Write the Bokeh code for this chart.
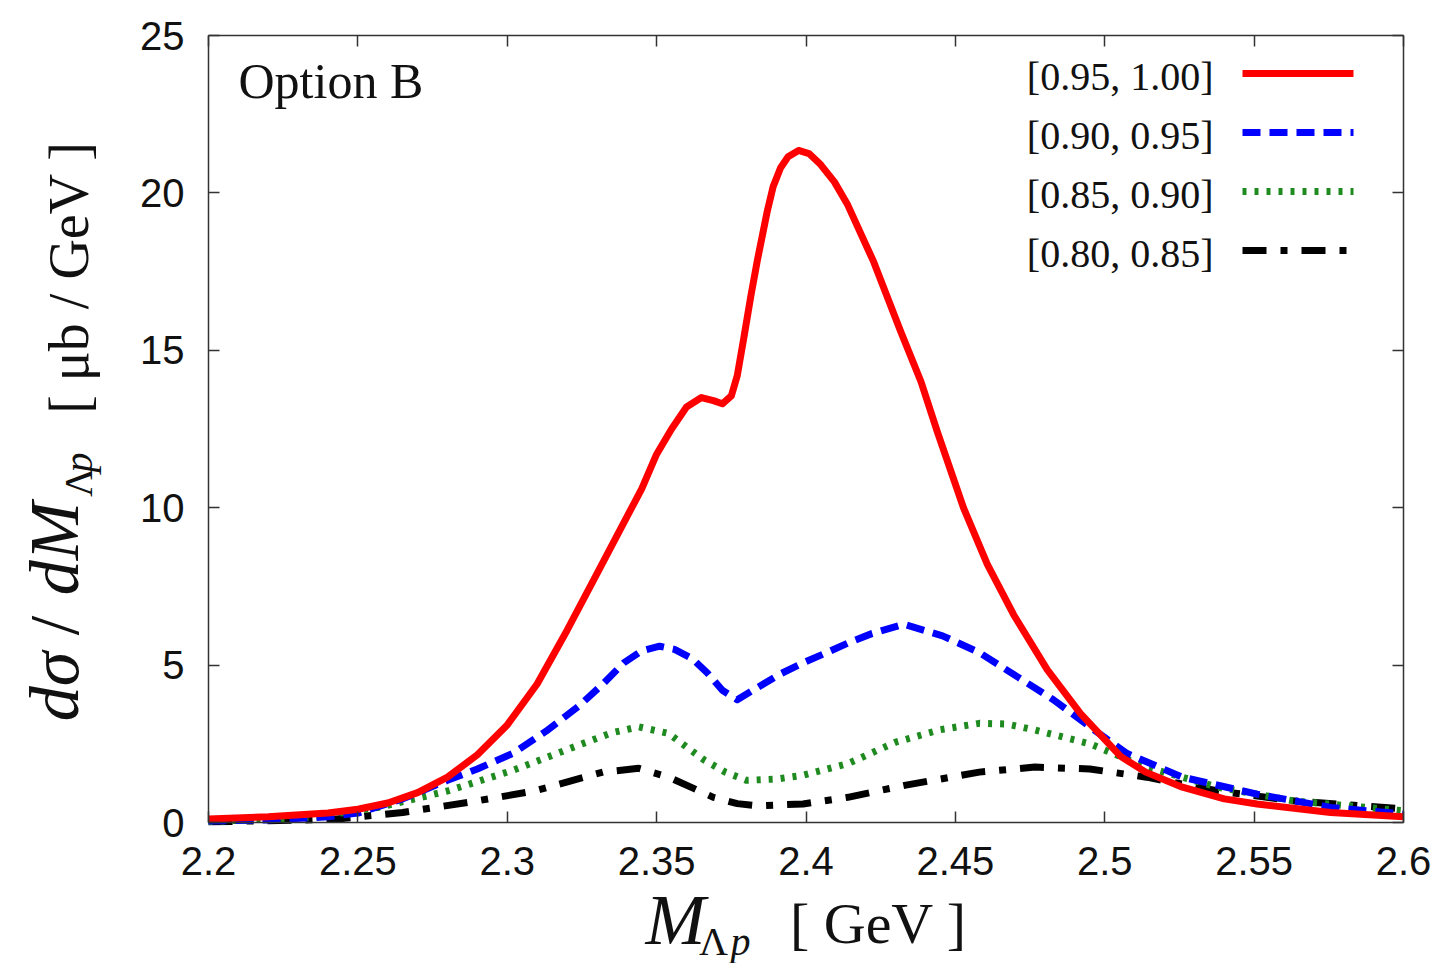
import math
from bokeh.plotting import figure
from bokeh.models import Range1d, FixedTicker, LinearAxis, Label, ColumnDataSource
from bokeh.embed import file_html
from bokeh.resources import INLINE

# ---------------- data ----------------
x_tick_values = [2.2, 2.25, 2.3, 2.35, 2.4, 2.45, 2.5, 2.55, 2.6]
x_tick_labels = ["2.2", "2.25", "2.3", "2.35", "2.4", "2.45", "2.5", "2.55", "2.6"]
y_tick_values = [0, 5, 10, 15, 20, 25]
y_tick_labels = ["0", "5", "10", "15", "20", "25"]

series_labels = ["[0.95, 1.00]", "[0.90, 0.95]", "[0.85, 0.90]", "[0.80, 0.85]"]

x_red = [2.20, 2.22, 2.24, 2.25, 2.26, 2.27, 2.28, 2.29, 2.30, 2.31, 2.32, 2.33,
         2.34, 2.345, 2.35, 2.355, 2.36, 2.365, 2.369, 2.372, 2.375, 2.377,
         2.3792, 2.3815, 2.3837, 2.387, 2.389, 2.3915, 2.394, 2.3975, 2.401,
         2.4049, 2.4095, 2.4138, 2.4227, 2.4317, 2.4385, 2.444, 2.4527, 2.4607,
         2.4695, 2.4808, 2.4919, 2.5053, 2.5137, 2.526, 2.54, 2.551, 2.5756, 2.6]
y_red = [0.11, 0.18, 0.30, 0.42, 0.62, 0.95, 1.44, 2.15, 3.1, 4.4, 6.1, 7.9,
         9.7, 10.6, 11.7, 12.5, 13.2, 13.5, 13.4, 13.3, 13.55, 14.2,
         15.4, 16.7, 17.85, 19.4, 20.2, 20.8, 21.15, 21.35, 21.25,
         20.9, 20.35, 19.65, 17.8, 15.6, 14.0, 12.4, 10.0, 8.2,
         6.6, 4.85, 3.46, 2.1, 1.6, 1.12, 0.75, 0.59, 0.32, 0.18]

x_blue = [2.20, 2.22, 2.24, 2.25, 2.265, 2.28, 2.29, 2.302, 2.313, 2.324, 2.332,
          2.339, 2.345, 2.351, 2.356, 2.362, 2.367, 2.372, 2.377, 2.384, 2.391,
          2.399, 2.407, 2.414, 2.422, 2.4327, 2.4457, 2.458, 2.4704, 2.4828,
          2.495, 2.5075, 2.526, 2.551, 2.5756, 2.6]
y_blue = [0.05, 0.08, 0.18, 0.30, 0.75, 1.34, 1.7, 2.2, 2.9, 3.7, 4.4,
          5.07, 5.45, 5.6, 5.5, 5.2, 4.75, 4.2, 3.9, 4.3, 4.7,
          5.07, 5.4, 5.7, 6.0, 6.3, 5.93, 5.4, 4.65, 3.9,
          3.04, 2.19, 1.44, 0.9, 0.48, 0.27]

x_green = [2.20, 2.234, 2.257, 2.28, 2.302, 2.324, 2.335, 2.344, 2.354, 2.36,
           2.366, 2.373, 2.38, 2.39, 2.399, 2.414, 2.43, 2.445, 2.458, 2.467,
           2.4766, 2.495, 2.5137, 2.538, 2.563, 2.6]
y_green = [0.03, 0.16, 0.48, 1.0, 1.66, 2.46, 2.85, 3.04, 2.83, 2.4,
           1.98, 1.6, 1.34, 1.38, 1.5, 1.87, 2.55, 2.95, 3.15, 3.13,
           2.94, 2.5, 1.76, 1.12, 0.69, 0.37]

x_black = [2.20, 2.242, 2.265, 2.287, 2.309, 2.332, 2.344, 2.354, 2.362, 2.369,
           2.377, 2.384, 2.399, 2.414, 2.433, 2.458, 2.4766, 2.495, 2.514,
           2.538, 2.563, 2.6]
y_black = [0.02, 0.1, 0.32, 0.64, 1.0, 1.6, 1.72, 1.44, 1.1, 0.8,
           0.6, 0.53, 0.59, 0.8, 1.18, 1.6, 1.76, 1.7, 1.44,
           1.0, 0.69, 0.43]

# ---------------- layout ----------------
W, H = 1440, 963
FL, FR, FT, FB = 208, 1403, 35, 822   # plot box edges in page pixels
XMIN, XMAX, YMIN, YMAX = 2.2, 2.6, 0.0, 25.0


def sx(px):
    return XMIN + (px - FL) / (FR - FL) * (XMAX - XMIN)


def sy(py):
    return YMIN + (FB - py) / (FB - FT) * (YMAX - YMIN)


SERIF = "Liberation Serif"
SANS = "Liberation Sans"
AX_COL = "#333333"
TXT = "#111111"

# the frame spans the whole page; the box axes sit at fixed data locations
p = figure(width=W, height=H,
           x_range=Range1d(sx(0), sx(W)), y_range=Range1d(sy(H), sy(0)),
           output_backend="svg", toolbar_location=None,
           x_axis_location=None, y_axis_location=None, min_border=0)
p.background_fill_color = "white"
p.border_fill_color = "white"
p.grid.visible = False
p.outline_line_color = None


def make_axis(loc, ticks, labels, show_labels, bounds, side):
    ax = LinearAxis(fixed_location=loc, bounds=bounds)
    ax.ticker = FixedTicker(ticks=ticks)
    ax.major_tick_in = 11
    ax.major_tick_out = 0
    ax.minor_tick_line_color = None
    ax.axis_line_color = AX_COL
    ax.axis_line_width = 1.5
    ax.major_tick_line_color = AX_COL
    ax.major_tick_line_width = 1.5
    if show_labels:
        ax.major_label_overrides = {t: l for t, l in zip(ticks, labels)}
        ax.major_label_text_font = SANS
        ax.major_label_text_font_size = "40px"
        ax.major_label_text_color = TXT
        ax.major_label_standoff = 24
    else:
        ax.major_label_overrides = {t: "" for t in ticks}
        ax.major_label_text_font_size = "1px"
        ax.major_label_standoff = 0
    p.add_layout(ax, side)
    return ax


make_axis(YMIN, x_tick_values, x_tick_labels, True, (XMIN, XMAX), "below")
make_axis(YMAX, x_tick_values, x_tick_labels, False, (XMIN, XMAX), "above")
make_axis(XMIN, y_tick_values, y_tick_labels, True, (YMIN, YMAX), "left")
make_axis(XMAX, y_tick_values, y_tick_labels, False, (YMIN, YMAX), "right")

# ---------------- curves ----------------
styles = [
    (x_red, y_red, "#ff0000", None),
    (x_blue, y_blue, "#0000ff", "18 9"),
    (x_green, y_green, "#1f8a1f", "4 8"),
    (x_black, y_black, "#000000", "24 14 7 14"),
]
LW = 7
for (xs, ys, col, dash) in reversed(styles):
    kw = dict(line_color=col, line_width=LW, line_join="round")
    if dash:
        kw["line_dash"] = dash
    p.line(xs, ys, **kw)

# ---------------- legend (label left, sample right) ----------------
leg_rows = [73, 132, 191, 250]
for lab_txt, rr, (xs, ys, col, dash) in zip(series_labels, leg_rows, styles):
    p.add_layout(Label(x=sx(1213), y=sy(rr + 3), text=lab_txt, text_align="right",
                       text_baseline="middle", text_font=SERIF,
                       text_font_size="40px", text_color=TXT))
    src = ColumnDataSource(dict(x=[sx(1242), sx(1353)], y=[sy(rr), sy(rr)]))
    kw = dict(line_color=col, line_width=LW)
    if dash:
        kw["line_dash"] = dash
    p.line("x", "y", source=src, **kw)


def lab(cx, cy, text, size, italic=False, rotated=False, align="center"):
    p.add_layout(Label(x=sx(cx), y=sy(cy), text=text, text_font=SERIF,
                       text_font_size=size, text_baseline="middle",
                       text_align=align, angle=math.pi / 2 if rotated else 0.0,
                       text_font_style="italic" if italic else "normal",
                       text_color=TXT))


# ---------------- Option B ----------------
lab(238, 80, "Option B", "50px", align="left")

# ---------------- x axis title: M_Λp [ GeV ] ----------------
lab(675, 919, "M", "72px", italic=True)
lab(713, 941, "Λ", "40px")
lab(740, 941, "p", "40px", italic=True)
lab(878, 923, "[ GeV ]", "58px")

# ---------------- y axis title: dσ / dM_Λp [ μb / GeV ] ----------------
lab(54, 686, "dσ", "70px", italic=True, rotated=True)
lab(54, 625, "/", "70px", rotated=True)
lab(54, 548, "dM", "70px", italic=True, rotated=True)
lab(78, 482, "Λ", "40px", rotated=True)
lab(78, 462, "p", "40px", italic=True, rotated=True)
lab(68, 277, "[ μb / GeV ]", "56px", rotated=True)

open("out.html", "w").write(file_html(p, INLINE))
